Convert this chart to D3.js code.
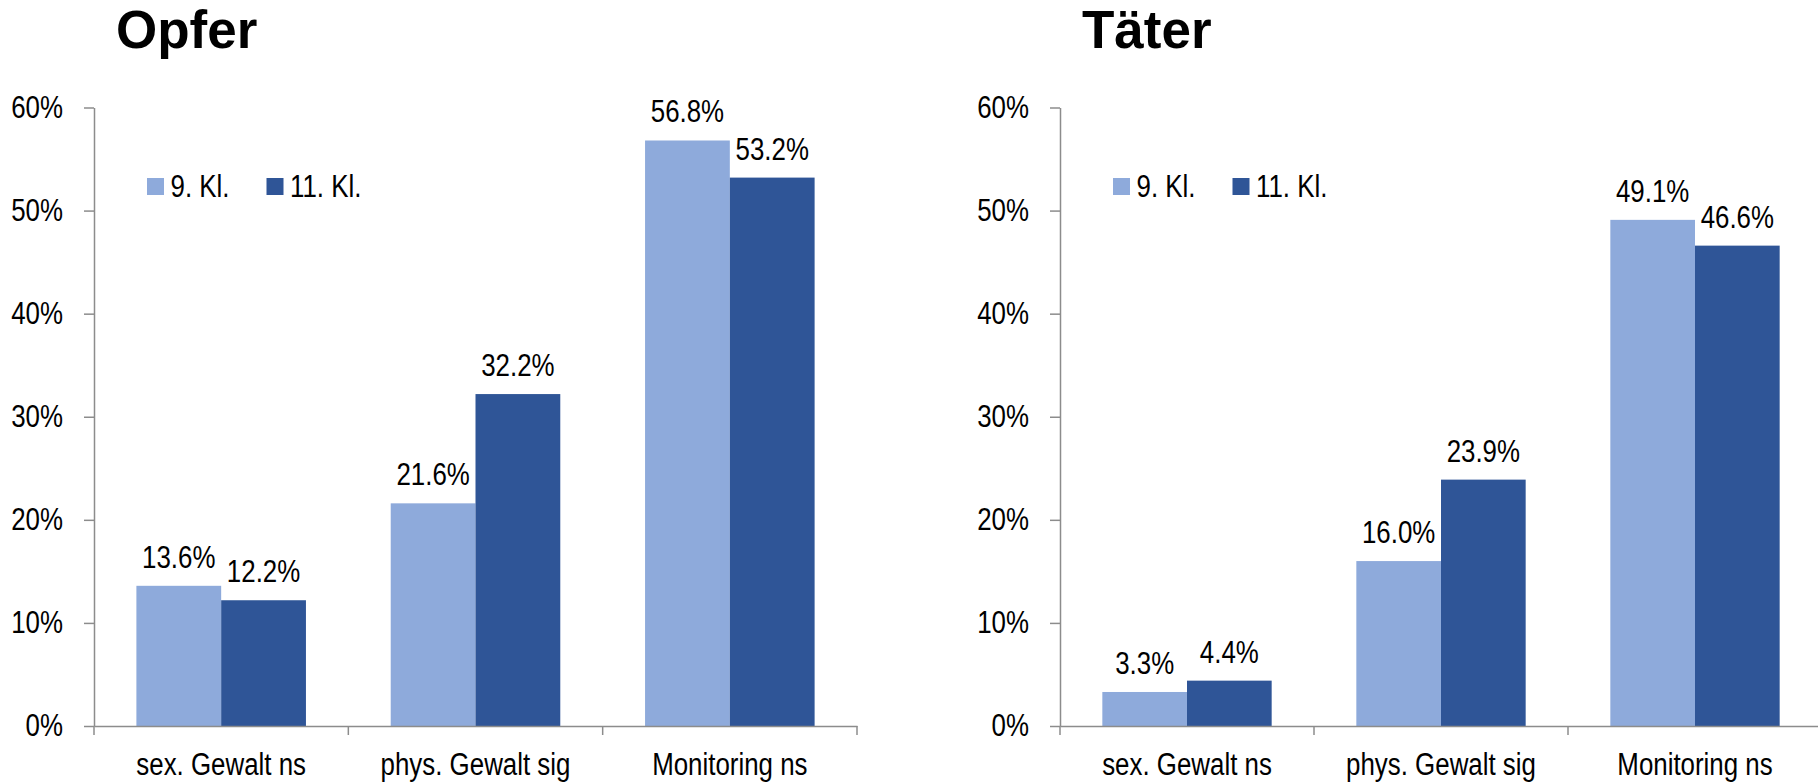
<!DOCTYPE html>
<html>
<head>
<meta charset="utf-8">
<script src="https://cdn.jsdelivr.net/npm/d3@7"></script>
<style>
  body { margin: 0; background: #fff; }
  svg text { font-family: "Liberation Sans", Arial, sans-serif; }
  .title { font-weight: bold; }
</style>
</head>
<body>
<div id="chart"></div>
<script>
// values in percent
var categories = ["sex. Gewalt ns", "phys. Gewalt sig", "Monitoring ns"];
var seriesNames = ["9. Kl.", "11. Kl."];
var seriesColors = ["#8eaadb", "#2f5597"];
var yTicks = [0, 10, 20, 30, 40, 50, 60];

var opferNinth = [13.6, 21.6, 56.8];
var opferEleventh = [12.2, 32.2, 53.2];
var taeterNinth = [3.3, 16.0, 49.1];
var taeterEleventh = [4.4, 23.9, 46.6];

var W = 1818, H = 783;
var squeeze = 0.835; // the original uses a narrow face, fake it with a horizontal scale
var fs = 31;

var svg = d3.select("#chart")
  .append("svg")
    .attr("width", W)
    .attr("height", H);

// squeeze text horizontally, keep its anchor point where it was
function narrow(sel){
  sel.each(function(){
    var t = d3.select(this);
    var x = +t.attr("x") || 0;
    t.attr("x", x / squeeze)
     .attr("transform", "scale(" + squeeze + ",1)")
     .attr("font-size", fs)
     .attr("fill", "#000");
  });
}

function drawPanel(title, ninth, eleventh, left, right){
  var y = d3.scaleLinear().domain([0, 60]).range([726, 107.5]);
  var x0 = d3.scaleBand().domain(categories).range([left, right]).paddingInner(0).paddingOuter(0);
  var x1 = d3.scaleBand().domain(seriesNames).range([0, x0.bandwidth()]).paddingInner(0).paddingOuter(0.5);
  var color = d3.scaleOrdinal().domain(seriesNames).range(seriesColors);

  var rows = categories.map(function(c, i){
    return {cat: c, vals: [{s: seriesNames[0], v: ninth[i]}, {s: seriesNames[1], v: eleventh[i]}]};
  });

  var g = svg.append("g");

  // title
  g.append("text")
    .attr("class", "title")
    .attr("x", left + 22)
    .attr("y", 48)
    .attr("font-size", 53)
    .attr("fill", "#000")
    .text(title);

  // bars
  var groups = g.selectAll("g.cat")
    .data(rows)
    .enter().append("g")
      .attr("class", "cat")
      .attr("transform", function(d){ return "translate(" + x0(d.cat) + ",0)"; });

  groups.selectAll("rect")
    .data(function(d){ return d.vals; })
    .enter().append("rect")
      .attr("x", function(d){ return x1(d.s); })
      .attr("y", function(d){ return y(d.v); })
      .attr("width", x1.bandwidth())
      .attr("height", function(d){ return y(0) - y(d.v); })
      .attr("fill", function(d){ return color(d.s); });

  groups.selectAll("text.val")
    .data(function(d){ return d.vals; })
    .enter().append("text")
      .attr("class", "val")
      .attr("x", function(d){ return x1(d.s) + x1.bandwidth()/2; })
      .attr("y", function(d){ return y(d.v) - 18; })
      .attr("text-anchor", "middle")
      .text(function(d){ return d3.format(".1f")(d.v) + "%"; })
      .call(narrow);

  // y axis
  var yAxis = d3.axisLeft(y)
    .tickValues(yTicks)
    .tickFormat(function(d){ return d + "%"; })
    .tickSize(10)
    .tickSizeOuter(0)
    .tickPadding(21);

  var ya = g.append("g")
    .attr("transform", "translate(" + left + ",0)")
    .call(yAxis);
  ya.selectAll("text").call(narrow);

  // x axis: labels centred, tick marks on the category borders
  var xAxis = d3.axisBottom(x0).tickSize(0).tickSizeOuter(0).tickPadding(27);
  var xa = g.append("g")
    .attr("transform", "translate(0," + y(0) + ")")
    .call(xAxis);
  xa.selectAll("text").call(narrow);

  var borders = categories.map(function(c){ return x0(c); }).concat([x0.range()[1]]);
  xa.selectAll("line.border")
    .data(borders)
    .enter().append("line")
      .attr("class", "border")
      .attr("x1", function(d){ return d; })
      .attr("x2", function(d){ return d; })
      .attr("y1", 0)
      .attr("y2", 9);

  g.selectAll(".domain, .tick line, line.border")
    .attr("stroke", "#8c8c8c")
    .attr("stroke-width", 1.5);

  // legend
  var leg = g.selectAll("g.legend")
    .data(seriesNames)
    .enter().append("g")
      .attr("class", "legend")
      .attr("transform", function(d, i){ return "translate(" + (left + 53 + i*119.5) + ",178)"; });
  leg.append("rect")
    .attr("width", 17)
    .attr("height", 17)
    .attr("fill", function(d){ return color(d); });
  leg.append("text")
    .attr("x", 23.5)
    .attr("y", 8.5)
    .attr("dy", "0.35em")
    .text(function(d){ return d; })
    .call(narrow);
}

drawPanel("Opfer", opferNinth, opferEleventh, 94, 857);
drawPanel("Täter", taeterNinth, taeterEleventh, 1060, 1822);
</script>
</body>
</html>
